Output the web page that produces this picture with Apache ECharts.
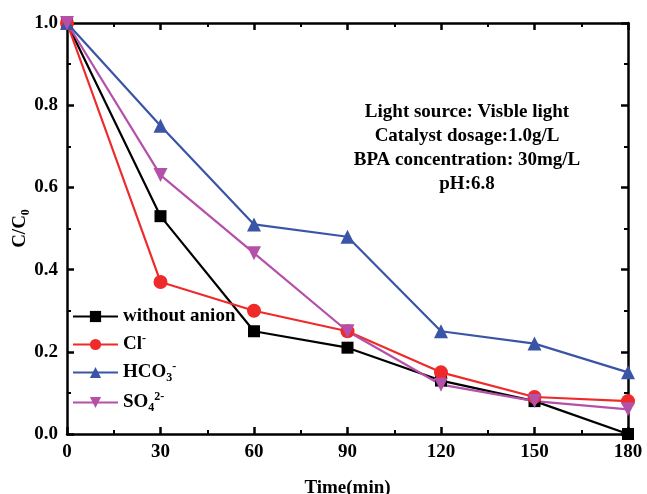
<!DOCTYPE html>
<html>
<head>
<meta charset="utf-8">
<script src="https://cdn.jsdelivr.net/npm/echarts@6/dist/echarts.min.js"></script>
<style>
  html, body { margin: 0; padding: 0; background: #fff; }
  #chart { width: 647px; height: 494px; }
</style>
</head>
<body>
<div id="chart"></div>
<script>
// time points (min)
const times = [0, 30, 60, 90, 120, 150, 180];
const withoutAnion = [1.0, 0.53, 0.25, 0.21, 0.13, 0.08, 0.0];
const chloride = [1.0, 0.37, 0.30, 0.25, 0.15, 0.09, 0.08];
const bicarbonate = [1.0, 0.75, 0.51, 0.48, 0.25, 0.22, 0.15];
const sulfate = [1.0, 0.63, 0.44, 0.25, 0.12, 0.08, 0.06];
const xTicks = [0, 30, 60, 90, 120, 150, 180];
const notes = ["Light source: Visble light", "Catalyst dosage:1.0g/L", "BPA concentration: 30mg/L", "pH:6.8"];

const font = "Liberation Serif";
const fs = 19;
const chart = echarts.init(document.getElementById("chart"));

function pairs(ys) {
  return times.map((t, i) => [t, ys[i]]);
}

const seriesDefs = [
  { name: "without anion", data: withoutAnion, color: "#000000", symbol: "rect", size: 12 },
  { name: "Cl", data: chloride, color: "#ee2a2a", symbol: "circle", size: 14 },
  { name: "HCO3", data: bicarbonate, color: "#3a55a5", symbol: "triangle", size: 14 },
  { name: "SO4", data: sulfate, color: "#b550a8", symbol: "path://M0,0 L10,0 L5,9 Z", size: 14 }
];

const legendText = {
  "without anion": "{m|without anion}",
  "Cl": "{m|Cl}{sup|-}",
  "HCO3": "{m|HCO}{sub|3}{sup|-}",
  "SO4": "{m|SO}{sub|4}{sup|2-}"
};

const richText = {
  m: { fontFamily: font, fontWeight: "bold", fontSize: fs, color: "#000", height: 22 },
  sub: { fontFamily: font, fontWeight: "bold", fontSize: 12, color: "#000", verticalAlign: "bottom", padding: [11, 0, 0, 0] },
  sup: { fontFamily: font, fontWeight: "bold", fontSize: 12, color: "#000", verticalAlign: "top", padding: [0, 0, 11, 0] }
};

const axisStyle = { onZero: false, lineStyle: { color: "#000", width: 2.5 } };
const tickStyle = { inside: true, length: 7, lineStyle: { width: 2.5 } };
const minorStyle = { show: true, splitNumber: 2, length: 4, lineStyle: { color: "#000", width: 2 } };
const labelFont = { fontFamily: font, fontWeight: "bold", fontSize: fs, color: "#000" };

const option = {
  backgroundColor: "#fff",
  animation: false,
  grid: { left: 67, right: 19, top: 23, bottom: 60, outerBoundsMode: "none" },
  legend: {
    orient: "vertical",
    left: 67,
    top: 302,
    itemWidth: 45,
    itemHeight: 14,
    itemGap: 7,
    data: seriesDefs.map(s => s.name),
    formatter: name => legendText[name],
    textStyle: { fontFamily: font, fontWeight: "bold", fontSize: fs, color: "#000", rich: richText }
  },
  xAxis: [
    {
      type: "value",
      min: 0,
      max: 180,
      interval: 30,
      name: "Time(min)",
      nameLocation: "middle",
      nameGap: 45,
      nameMoveOverlap: false,
      nameTextStyle: labelFont,
      axisLine: axisStyle,
      axisTick: tickStyle,
      minorTick: minorStyle,
      axisLabel: Object.assign({ margin: 9, formatter: v => xTicks.includes(v) ? String(v) : "" }, labelFont),
      splitLine: { show: false }
    },
    {
      type: "value",
      position: "top",
      min: 0,
      max: 180,
      interval: 30,
      axisLine: axisStyle,
      axisTick: tickStyle,
      minorTick: minorStyle,
      axisLabel: { show: false },
      splitLine: { show: false }
    }
  ],
  yAxis: [
    {
      type: "value",
      min: 0,
      max: 1.0,
      interval: 0.2,
      name: "{m|C/C}{sub|0}",
      nameLocation: "middle",
      nameGap: 35,
      nameRotate: 90,
      nameMoveOverlap: false,
      nameTextStyle: { rich: richText },
      axisLine: axisStyle,
      axisTick: tickStyle,
      minorTick: minorStyle,
      axisLabel: Object.assign({ margin: 9, formatter: v => v.toFixed(1) }, labelFont),
      splitLine: { show: false }
    },
    {
      type: "value",
      position: "right",
      min: 0,
      max: 1.0,
      interval: 0.2,
      axisLine: axisStyle,
      axisTick: tickStyle,
      minorTick: minorStyle,
      axisLabel: { show: false },
      splitLine: { show: false }
    }
  ],
  graphic: notes.map((t, i) => ({
    type: "text",
    x: 467,
    y: 103 + i * 24,
    style: {
      text: t,
      align: "center",
      fontFamily: font,
      fontWeight: "bold",
      fontSize: fs,
      fill: "#000"
    }
  })),
  series: seriesDefs.map(s => ({
    name: s.name,
    type: "line",
    data: pairs(s.data),
    symbol: s.symbol,
    symbolSize: s.size,
    color: s.color,
    lineStyle: { color: s.color, width: 2.2 },
    itemStyle: { color: s.color }
  }))
};

chart.setOption(option);
</script>
</body>
</html>
